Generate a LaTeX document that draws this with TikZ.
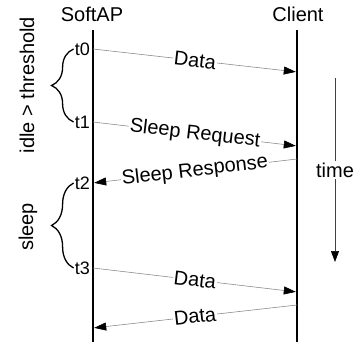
\documentclass[tikz,border=0pt]{standalone}
\usepackage{fontspec}
\setmainfont{Liberation Sans}
\usetikzlibrary{arrows.meta,decorations.pathreplacing}

\begin{document}
\begin{tikzpicture}[x=1pt,y=-1pt,
  every node/.style={font=\fontsize{20}{24}\selectfont},
  life/.style={line width=2.4pt},
  msg/.style={draw=black!45,line width=0.6pt,shorten >=1.2pt,
    -{Triangle[length=12pt,width=8pt,color=black]}},
  msglabel/.style={fill=white,inner sep=1pt,sloped,midway},
  tick/.style={anchor=east,xshift=-2pt,inner sep=1pt,font=\fontsize{18}{20}\selectfont},
  phase/.style={decorate,decoration={brace,amplitude=22pt},line width=1.3pt},
  timeline/.style={draw=black!75,line width=0.7pt,-{Triangle[length=11pt,width=8pt,color=black]}}]
  \useasboundingbox (0,0) rectangle (358,345);

  % Lifelines
  \node (softap) at (92,14) {SoftAP};
  \node (client) at (298,14) {Client};
  \coordinate (ap-top) at (93,30);
  \coordinate (ap-bot) at (93,342);
  \coordinate (cl-top) at (297,30);
  \coordinate (cl-bot) at (297,342);
  \draw[life] (ap-top) -- (ap-bot);
  \draw[life] (cl-top) -- (cl-bot);

  % Message end points
  \foreach \n/\ya/\yb in {m1/49/72, m2/122/146, m3/183/159, m4/268/292, m5/328/305}{
    \coordinate (\n-ap) at (93,\ya);
    \coordinate (\n-cl) at (297,\yb);
  }

  % Messages
  \draw[msg] (m1-ap) -- node[msglabel] (data1) {Data} (m1-cl);
  \draw[msg] (m2-ap) -- node[msglabel] (req) {Sleep Request} (m2-cl);
  \draw[msg] (m3-cl) -- node[msglabel] (resp) {Sleep Response} (m3-ap);
  \draw[msg] (m4-ap) -- node[msglabel] (data2) {Data} (m4-cl);
  \draw[msg] (m5-cl) -- node[msglabel] (data3) {Data} (m5-ap);

  % Instants
  \node[tick] (t0) at (m1-ap) {t0};
  \node[tick] (t1) at (m2-ap) {t1};
  \node[tick] (t2) at (m3-ap) {t2};
  \node[tick] (t3) at (m4-ap) {t3};

  % Phases
  \draw[phase] (t1.west) -- (t0.west);
  \draw[phase] (t3.west) -- (t2.west);
  \node[rotate=90] (idle) at (27,85) {idle > threshold};
  \node[rotate=90] (sleep) at (28,227) {sleep};

  % Time axis
  \coordinate (time-top) at (335,78);
  \coordinate (time-bot) at (335,262);
  \draw[timeline] (time-top) -- node[fill=white,inner sep=2pt] (time) {time} (time-bot);
\end{tikzpicture}
\end{document}
